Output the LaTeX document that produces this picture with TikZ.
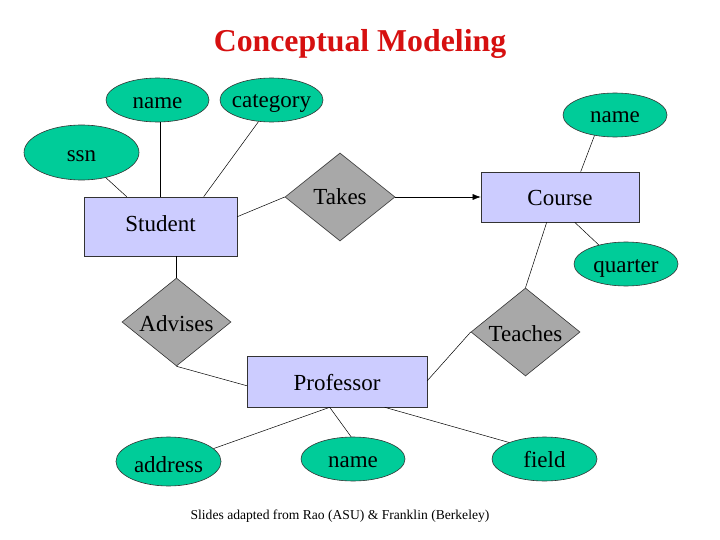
\documentclass[tikz,border=0pt]{standalone}
\usepackage{fontspec}
\setmainfont{Liberation Serif}
\usetikzlibrary{shapes.geometric,arrows.meta}
\definecolor{attrgreen}{RGB}{0,204,153}
\definecolor{entblue}{RGB}{204,204,255}
\definecolor{relgray}{RGB}{168,168,168}
\definecolor{titlered}{RGB}{214,16,16}
\tikzset{
  attr/.style={ellipse,draw=black!80,fill=attrgreen,inner sep=0pt,line width=0.6pt,
    minimum width=104pt,minimum height=44pt,font=\fontsize{23}{27}\selectfont},
  ent/.style={rectangle,draw=black!80,fill=entblue,inner sep=0pt,line width=0.6pt,
    font=\fontsize{23}{27}\selectfont},
  rel/.style={diamond,draw=black!80,fill=relgray,inner sep=0pt,line width=0.6pt,aspect=1.25,
    minimum width=109pt,minimum height=88pt,font=\fontsize{23}{27}\selectfont},
  conn/.style={draw=black,line width=0.5pt},
}
% text whose baseline lies #1 below the node centre
\newcommand{\tx}[2]{\makebox[0pt]{\raisebox{-#1}[0pt][0pt]{#2}}}
\begin{document}
\begin{tikzpicture}[x=1pt,y=-1pt]
\useasboundingbox (0,0) rectangle (720,540);
\node[font=\bfseries\fontsize{31.8}{36}\selectfont,text=titlered,anchor=base] (title) at (360,52) {Conceptual Modeling};

% entities
\node[ent,minimum width=153pt,minimum height=59pt] (st) at (160.5,226.5) {\tx{4.5pt}{Student}};
\node[ent,minimum width=158pt,minimum height=50pt] (co) at (560,197) {\tx{9pt}{Course}};
\node[ent,minimum width=180pt,minimum height=51pt] (pr) at (337,381.5) {\tx{8.5pt}{Professor}};

% relationships
\node[rel,minimum width=110pt] (tk) at (340,197) {\tx{8pt}{Takes}};
\node[rel] (ad) at (176.5,322) {\tx{9pt}{Advises}};
\node[rel] (te) at (525.5,332) {\tx{9pt}{Teaches}};

% attributes
\node[attr,minimum width=103pt] (nm1) at (157.5,100) {\tx{9pt}{name}};
\node[attr,minimum width=103pt] (cat) at (271.5,100) {\tx{8pt}{category}};
\node[attr,minimum width=115pt,minimum height=55pt] (ssn) at (81.5,152.5) {\tx{9.5pt}{ssn}};
\node[attr] (cn) at (615,115) {\tx{8pt}{name}};
\node[attr] (qu) at (626,264) {\tx{8pt}{quarter}};
\node[attr,minimum width=105pt,minimum height=49pt] (adr) at (168.5,461.5) {\tx{10.5pt}{address}};
\node[attr] (pn) at (353,459) {\tx{8pt}{name}};
\node[attr,minimum width=105pt] (fi) at (544.5,459) {\tx{8pt}{field}};

% connectors
\draw[conn] (ssn.-46) -- ([xshift=43pt]st.north west);
\draw[conn] (nm1.south -| st.north) -- (st.north);
\draw[conn] (cat.-121) -- ([xshift=120pt]st.north west);
\draw[conn] ([yshift=-20pt]st.north east) -- (tk.west);
\draw[conn,-{Latex[length=8pt,width=6pt]}] (tk.east) -- (co.west);
\draw[conn] (cn.-135) -- ([xshift=100pt]co.north west);
\draw[conn] ([xshift=94pt]co.south west) -- (qu.145);
\draw[conn] ([xshift=66pt]co.south west) -- (te.north);
\draw[conn] (ad.north |- st.south) -- (ad.north);
\draw[conn] (ad.south) -- ([yshift=-30pt]pr.north west);
\draw[conn] ([yshift=-25pt]pr.north east) -- (te.west);
\draw[conn] ([xshift=83pt]pr.south west) -- (adr.16);
\draw[conn] ([xshift=83pt]pr.south west) -- (pn.95);
\draw[conn] ([xshift=138pt]pr.south west) -- (fi.155);

\node[font=\fontsize{13.6}{16}\selectfont] (foot) at (340,516) {Slides adapted from Rao (ASU) \& Franklin (Berkeley)};
\end{tikzpicture}
\end{document}
